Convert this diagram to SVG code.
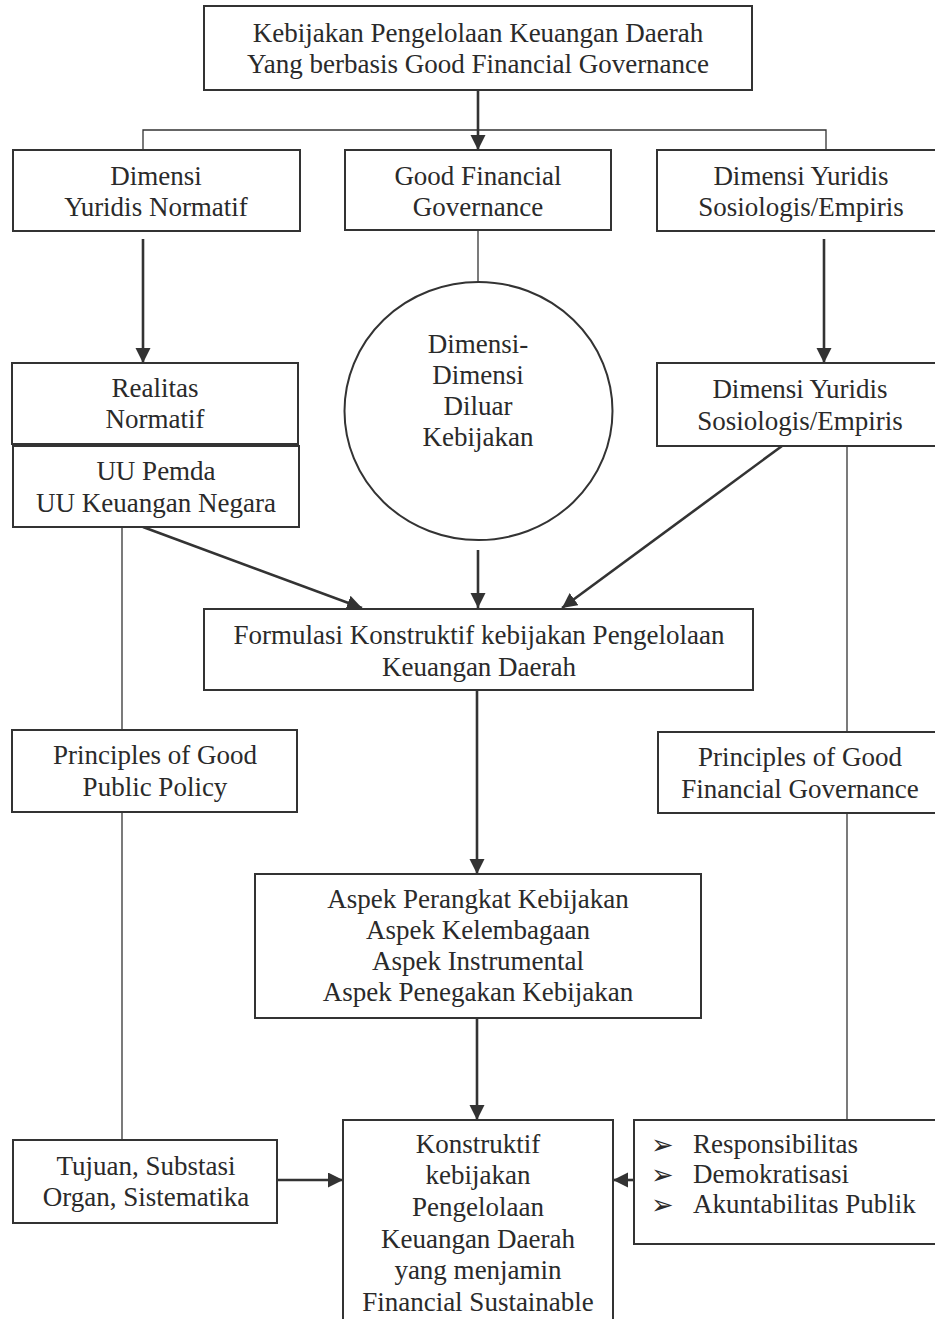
<svg xmlns="http://www.w3.org/2000/svg" width="935" height="1319" viewBox="0 0 935 1319">
<defs>
<marker id="ah" markerUnits="userSpaceOnUse" markerWidth="16" markerHeight="16" refX="15" refY="7.5" orient="auto">
<path d="M0,0 L15,7.5 L0,15 z" fill="#333"/>
</marker>
<style>
rect.b, ellipse.b { fill: #fff; stroke: #333; stroke-width: 2; }
text { font-family: "Liberation Serif", "Times New Roman", serif; font-size: 27px; fill: #2a2a2a; text-anchor: middle; }
text.l { text-anchor: start; }
text.bul { font-family: "DejaVu Sans", sans-serif; font-size: 27px; text-anchor: start; }
.ln { fill: none; stroke: #333; stroke-width: 1.3; }
.ar { fill: none; stroke: #333; stroke-width: 2.6; marker-end: url(#ah); }
</style>
</defs>
<rect width="935" height="1319" fill="#fff"/>

<g id="connectors">
<line class="ar" x1="478" y1="90" x2="478" y2="150"/>
<polyline class="ln" points="143,150 143,130 826,130 826,150"/>
<line class="ar" x1="143" y1="239" x2="143" y2="363"/>
<line class="ar" x1="824" y1="239" x2="824" y2="363"/>
<line class="ln" x1="478" y1="230" x2="478" y2="282"/>
<line class="ar" x1="143" y1="527" x2="362" y2="608"/>
<line class="ar" x1="478" y1="550" x2="478" y2="608"/>
<line class="ar" x1="782" y1="446" x2="562" y2="608"/>
<line class="ln" x1="122" y1="527" x2="122" y2="730"/>
<line class="ln" x1="847" y1="446" x2="847" y2="732"/>
<line class="ar" x1="477" y1="690" x2="477" y2="874"/>
<line class="ln" x1="122" y1="812" x2="122" y2="1140"/>
<line class="ln" x1="847" y1="813" x2="847" y2="1120"/>
<line class="ar" x1="477" y1="1018" x2="477" y2="1120"/>
<line class="ar" x1="277" y1="1180" x2="343" y2="1180"/>
<line class="ar" x1="634" y1="1180" x2="613" y2="1180"/>
</g>

<g id="n-top">
<rect class="b" x="204" y="6" width="548" height="84"/>
<text x="478" y="42">Kebijakan Pengelolaan Keuangan Daerah</text>
<text x="478" y="73">Yang berbasis Good Financial Governance</text>
</g>

<g id="n-dyn">
<rect class="b" x="13" y="150" width="287" height="81"/>
<text x="156" y="185">Dimensi</text>
<text x="156" y="216">Yuridis Normatif</text>
</g>

<g id="n-gfg">
<rect class="b" x="345" y="150" width="266" height="80"/>
<text x="478" y="185">Good Financial</text>
<text x="478" y="216">Governance</text>
</g>

<g id="n-dys1">
<rect class="b" x="657" y="150" width="290" height="81"/>
<text x="801" y="185">Dimensi Yuridis</text>
<text x="801" y="216">Sosiologis/Empiris</text>
</g>

<g id="n-realitas">
<rect class="b" x="12" y="363" width="286" height="81"/>
<text x="155" y="397">Realitas</text>
<text x="155" y="428">Normatif</text>
</g>

<g id="n-uu">
<rect class="b" x="13" y="446" width="286" height="81"/>
<text x="156" y="480">UU Pemda</text>
<text x="156" y="512">UU Keuangan Negara</text>
</g>

<g id="n-circle">
<ellipse class="b" cx="478.5" cy="411" rx="134" ry="129"/>
<text x="478" y="353">Dimensi-</text>
<text x="478" y="384">Dimensi</text>
<text x="478" y="415">Diluar</text>
<text x="478" y="446">Kebijakan</text>
</g>

<g id="n-dys2">
<rect class="b" x="657" y="363" width="290" height="83"/>
<text x="800" y="398">Dimensi Yuridis</text>
<text x="800" y="430">Sosiologis/Empiris</text>
</g>

<g id="n-formulasi">
<rect class="b" x="204" y="609" width="549" height="81"/>
<text x="479" y="644">Formulasi Konstruktif kebijakan Pengelolaan</text>
<text x="479" y="676">Keuangan Daerah</text>
</g>

<g id="n-pgpp">
<rect class="b" x="12" y="730" width="285" height="82"/>
<text x="155" y="764">Principles of Good</text>
<text x="155" y="796">Public Policy</text>
</g>

<g id="n-pgfg">
<rect class="b" x="658" y="732" width="290" height="81"/>
<text x="800" y="766">Principles of Good</text>
<text x="800" y="798">Financial Governance</text>
</g>

<g id="n-aspek">
<rect class="b" x="255" y="874" width="446" height="144"/>
<text x="478" y="908">Aspek Perangkat Kebijakan</text>
<text x="478" y="939">Aspek Kelembagaan</text>
<text x="478" y="970">Aspek Instrumental</text>
<text x="478" y="1001">Aspek Penegakan Kebijakan</text>
</g>

<g id="n-tujuan">
<rect class="b" x="13" y="1140" width="264" height="83"/>
<text x="146" y="1175">Tujuan, Substasi</text>
<text x="146" y="1206">Organ, Sistematika</text>
</g>

<g id="n-konstruktif">
<rect class="b" x="343" y="1120" width="270" height="210"/>
<text x="478" y="1153">Konstruktif</text>
<text x="478" y="1184">kebijakan</text>
<text x="478" y="1216">Pengelolaan</text>
<text x="478" y="1248">Keuangan Daerah</text>
<text x="478" y="1279">yang menjamin</text>
<text x="478" y="1311">Financial Sustainable</text>
</g>

<g id="n-bullets">
<rect class="b" x="634" y="1120" width="310" height="124"/>
<text class="bul" x="651" y="1154">➢</text>
<text class="bul" x="651" y="1184">➢</text>
<text class="bul" x="651" y="1214">➢</text>
<text class="l" x="693" y="1153">Responsibilitas</text>
<text class="l" x="693" y="1183">Demokratisasi</text>
<text class="l" x="693" y="1213">Akuntabilitas Publik</text>
</g>
</svg>
